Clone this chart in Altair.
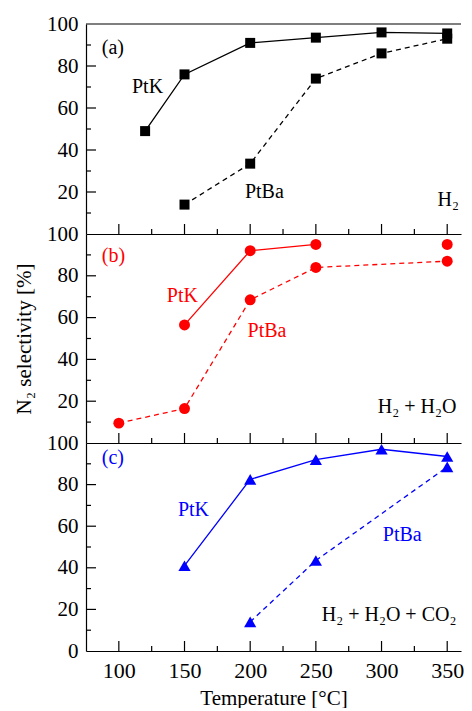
import altair as alt
import pandas as pd

FONT = "Liberation Serif"
XDOM = [75, 360.5]
W = 375
HEIGHTS = [210, 209, 208]

# ---- data ----
# panel (a) H2
a_K_T = [120, 150, 200, 250, 300, 350]
a_K_S = [49, 76, 91, 93.5, 96, 95.5]
a_Ba_T = [150, 200, 250, 300, 350]
a_Ba_S = [14, 33.5, 74, 86, 93]
# panel (b) H2 + H2O
b_K_T = [150, 200, 250, 350]
b_K_S = [56.5, 92, 95, 95]
b_K_seg = ["s1", "s1", "s1", "s2"]
b_Ba_T = [100, 150, 200, 250, 350]
b_Ba_S = [9.5, 16.5, 68.5, 84, 87]
# panel (c) H2 + H2O + CO2
c_K_T = [150, 200, 250, 300, 350]
c_K_S = [41, 82.5, 92, 97, 93.5]
c_Ba_T = [200, 250, 350]
c_Ba_S = [14, 43.5, 88.5]

# annotations: text, x, y
a_txt = ["(a)", "PtK", "PtBa"]; a_txt_x = [87, 110, 196]; a_txt_y = [88.6, 70, 20]
b_txt = ["(b)", "PtK", "PtBa"]; b_txt_x = [87, 136.5, 198]; b_txt_y = [89.5, 70.4, 53.6]
c_txt = ["(c)", "PtK", "PtBa"]; c_txt_x = [87, 145, 301]; c_txt_y = [93, 67.8, 55.8]
gas_txt = ["H\u2082", "H\u2082 + H\u2082O", "H\u2082 + H\u2082O + CO\u2082"]
gas_x = [359, 357, 357]
gas_y = [16, 17.4, 17.3]

X_MAJOR = [100, 150, 200, 250, 300, 350]
X_MINOR = [125, 175, 225, 275, 325]
Y_MAJOR = [20, 40, 60, 80]
Y_MINOR = [10, 30, 50, 70, 90]

MAJ = 10
MIN = 5


def panel(kT, kS, kSeg, bT, bS, txt, tx, ty, gas, gx, gy, color, shape, size,
          show_zero, xlabels, top, ytitle, h):
    xs = alt.Scale(domain=XDOM, nice=False, zero=False)
    ys = alt.Scale(domain=[0, 100], nice=False, zero=False)
    dK = pd.DataFrame({"T": kT, "S": kS, "seg": kSeg})
    dB = pd.DataFrame({"T": bT, "S": bS})
    dAll = pd.concat([dK.assign(s="PtK"), dB.assign(s="PtBa")])
    dT = pd.DataFrame({"T": tx, "S": ty, "t": txt})
    dG = pd.DataFrame({"T": [gx], "S": [gy], "t": [gas]})

    xkw = dict(orient="bottom", domain=True, domainColor="black", domainWidth=1.2,
               tickSize=0, grid=False, tickCount=6, labels=xlabels, zindex=0,
               labelFont=FONT, labelFontSize=22, labelColor="black", labelPadding=9,
               labelFlush=False, labelOverlap=False)
    if xlabels:
        xkw.update(title="Temperature [\u00b0C]", titleFont=FONT, titleFontSize=21,
                   titleFontWeight="normal", titleColor="black", titlePadding=6)
    else:
        xkw.update(title=None)
    ykw = dict(orient="left", domain=True, domainColor="black", domainWidth=1.2,
               tickSize=0, grid=False, tickCount=5, labels=True, zindex=0,
               labelFont=FONT, labelFontSize=21, labelColor="black", labelPadding=8,
               labelFlush=False, labelOverlap=False)
    if not show_zero:
        ykw.update(labelExpr="datum.value == 0 ? '' : datum.label")
    if ytitle:
        ykw.update(title="N\u2082 selectivity [%]", titleFont=FONT, titleFontSize=21,
                   titleFontWeight="normal", titleColor="black", titlePadding=12)
    else:
        ykw.update(title=None)

    def X():
        return alt.X("T:Q", scale=xs, axis=alt.Axis(**xkw))

    def Y():
        return alt.Y("S:Q", scale=ys, axis=alt.Axis(**ykw))

    layers = []
    layers.append(alt.Chart(dK).mark_line(color=color, strokeWidth=1.3).encode(
        x=X(), y=Y(), detail="seg:N"))
    layers.append(alt.Chart(dB).mark_line(color=color, strokeWidth=1.3,
                                          strokeDash=[5, 4]).encode(x=X(), y=Y()))
    layers.append(alt.Chart(dAll).mark_point(shape=shape, filled=True, size=size,
                                             color=color, opacity=1).encode(x=X(), y=Y()))
    # inward ticks: short segments drawn from the tick-value arrays through the scales
    for vals, ln in ((Y_MAJOR, MAJ), (Y_MINOR, MIN)):
        layers.append(alt.Chart(pd.DataFrame({"S": vals})).mark_rule(
            color="black", strokeWidth=1.2).encode(
            y=Y(), y2=alt.Y2("S"), x=alt.value(0), x2=alt.value(ln)))
    for vals, ln in ((X_MAJOR, MAJ), (X_MINOR, MIN)):
        layers.append(alt.Chart(pd.DataFrame({"T": vals})).mark_rule(
            color="black", strokeWidth=1.2).encode(
            x=X(), x2=alt.X2("T"), y=alt.value(h), y2=alt.value(h - ln)))
    if top:
        # top frame line of the upper panel
        layers.append(alt.Chart(pd.DataFrame({"k": [0]})).mark_rule(
            color="black", strokeWidth=1.2).encode(
            y=alt.value(0), x=alt.value(0), x2=alt.value(W)))
    layers.append(alt.Chart(dT).mark_text(align="left", baseline="middle", font=FONT,
                                          fontSize=20, color=color).encode(
        x=X(), y=Y(), text="t:N"))
    layers.append(alt.Chart(dG).mark_text(align="right", baseline="middle", font=FONT,
                                          fontSize=20, color="black").encode(
        x=X(), y=Y(), text="t:N"))
    return alt.layer(*layers).properties(width=W, height=h)


pa = panel(a_K_T, a_K_S, ["s1"] * len(a_K_T), a_Ba_T, a_Ba_S, a_txt, a_txt_x, a_txt_y,
           gas_txt[0], gas_x[0], gas_y[0], "#000000", "square", 100,
           False, False, True, False, HEIGHTS[0])
pb = panel(b_K_T, b_K_S, b_K_seg, b_Ba_T, b_Ba_S, b_txt, b_txt_x, b_txt_y,
           gas_txt[1], gas_x[1], gas_y[1], "#ff0000", "circle", 120,
           False, False, False, True, HEIGHTS[1])
pc = panel(c_K_T, c_K_S, ["s1"] * len(c_K_T), c_Ba_T, c_Ba_S, c_txt, c_txt_x, c_txt_y,
           gas_txt[2], gas_x[2], gas_y[2], "#0000ff", "triangle-up", 150,
           True, True, False, False, HEIGHTS[2])

chart = alt.vconcat(pa, pb, pc, spacing=0, bounds="flush").properties(
    padding={"left": 5, "top": 5, "right": 0, "bottom": 0},
    background="white",
).configure_view(stroke=None)

chart.save("out.html", embed_options={"renderer": "svg", "actions": False})
